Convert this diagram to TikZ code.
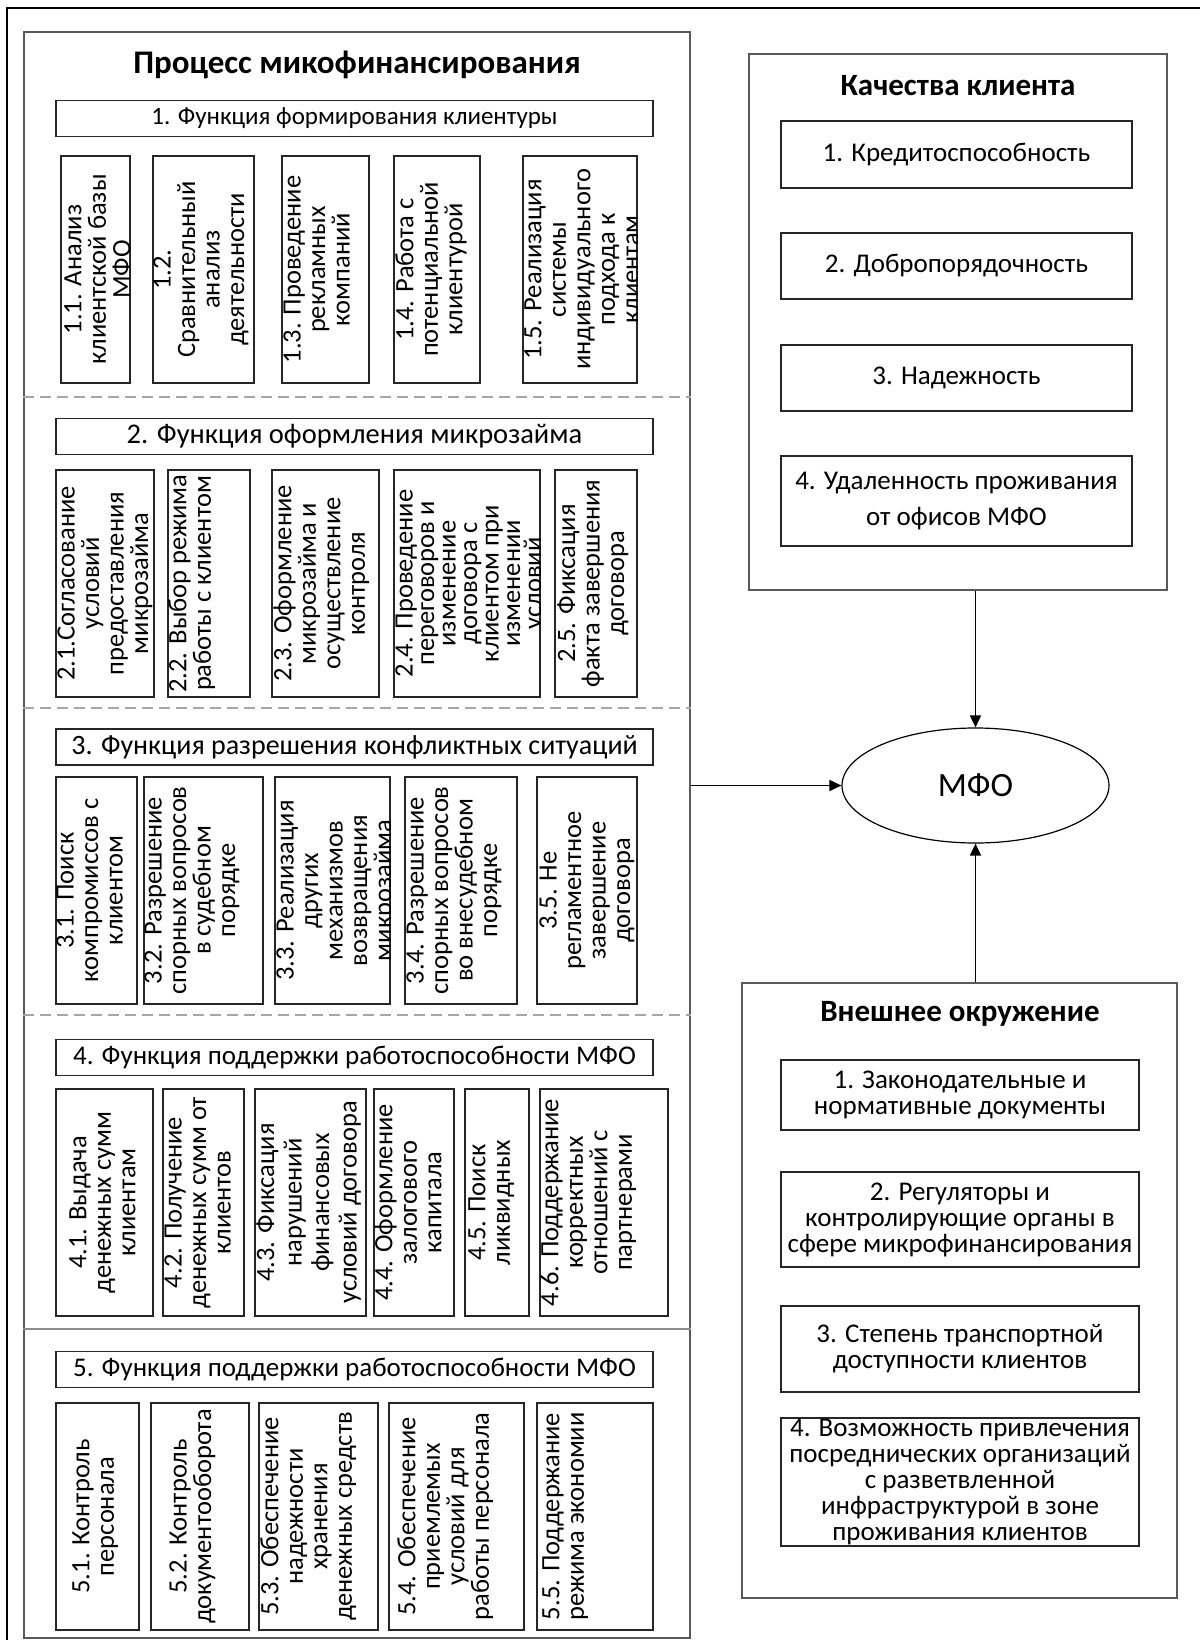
\documentclass[tikz,border=0pt]{standalone}
\usepackage{fontspec}
\setmainfont{Carlito}
\usetikzlibrary{shapes.geometric,arrows.meta}

\newcommand{\subfont}{\fontsize{26.5}{24.5}\selectfont\lineskiplimit=-40pt\relax}
\newcommand{\envfont}{\fontsize{27}{26}\selectfont\lineskiplimit=-40pt\relax}
% [text offset]{name}{x1}{y1}{x2}{y2}{text}
\newcommand{\subbox}[7][2]{%
  \pgfmathsetmacro{\sbw}{#5-#3}%
  \pgfmathsetmacro{\sbh}{#6-#4}%
  \node[subframe, minimum width=\sbw pt, minimum height=\sbh pt] (#2) at ({(#3+#5)/2},{(#4+#6)/2}) {};
  \begin{scope}
    \clip (#2.south west) rectangle (#2.north east);
    \node[subtext] (#2txt) at ([xshift=#1pt]#2.west) {#7};
  \end{scope}}

\begin{document}
\begin{tikzpicture}[x=1pt, y=-1pt]

\tikzset{bigframe/.style={draw=black!65, line width=2.4pt, inner sep=0pt},
subframe/.style={draw=black!85, line width=1.7pt, inner sep=0pt},
subtext/.style={rotate=90, anchor=north, align=center, inner sep=0pt, font=\subfont},
headbox/.style={draw=black!85, line width=1.7pt, inner sep=0pt, minimum width=597pt, minimum height=36pt},
kitem/.style={draw=black!85, line width=1.7pt, inner sep=0pt, minimum width=351pt, align=center, font=\fontsize{27}{36}\selectfont},
vitem/.style={draw=black!85, line width=1.7pt, inner sep=0pt, minimum width=358pt, align=center, font=\envfont},
boxtitle/.style={inner sep=0pt, font=\bfseries\fontsize{31}{36}\selectfont},
sepline/.style={draw=black!35, line width=2pt, dash pattern=on 11pt off 6pt},
flow/.style={line width=1.8pt, -{Triangle[length=12pt,width=11pt]}}}

\useasboundingbox (0,0) rectangle (1200,1640);

% Frame
\draw[line width=2pt] (7,1640) -- (7,8) -- (1200,8);

% Blocks
\node[bigframe, minimum width=666pt, minimum height=1606pt] (proc) at (357,835) {};
\node[bigframe, minimum width=418pt, minimum height=536pt] (kach) at (958,322) {};
\node[bigframe, minimum width=435pt, minimum height=615pt] (vnesh) at (959.5,1290.5) {};
\node[draw, line width=1.2pt, ellipse, minimum width=267pt, minimum height=115pt, font=\fontsize{34}{40}\selectfont] (mfo) at (975.5,785.5) {МФО};

\node[inner sep=0pt, font=\bfseries\fontsize{33}{40}\selectfont] (proctitle) at (357,65) {Процесс микофинансирования};
\node[boxtitle] (kachtitle) at (958,86) {Качества клиента};
\node[boxtitle] (vneshtitle) at (960,1014) {Внешнее окружение};

% Separators
\foreach \y in {397,708,1015} \draw[sepline] (proc.west |- 0,\y) -- (proc.east |- 0,\y);
\draw[draw=black!45, line width=1.6pt] (proc.west |- 0,1329) -- (proc.east |- 0,1329);

% Functions
\foreach \n/\y/\s/\t in {1/118.5/25/{1. Функция формирования клиентуры},
  2/436.5/28.5/{2. Функция оформления микрозайма},
  3/747/28/{3. Функция разрешения конфликтных ситуаций},
  4/1057.5/27/{4. Функция поддержки работоспособности МФО},
  5/1369.5/27/{5. Функция поддержки работоспособности МФО}}
  \node[headbox, font=\fontsize{\s}{30}\selectfont] (fun\n) at (354.5,\y) {\t};

% Function 1
\subbox[4]{f11}{61}{156}{130}{383}{1.1. Анализ\\клиентской базы\\МФО}
\subbox[1]{f12}{153}{156}{254}{383}{1.2.\\Сравнительный\\анализ\\деятельности}
\subbox[2]{f13}{282}{156}{369}{383}{1.3. Проведение\\рекламных\\компаний}
\subbox[2]{f14}{394}{156}{480}{383}{1.4. Работа с\\потенциальной\\клиентурой}
\subbox[2]{f15}{523}{156}{637}{383}{1.5. Реализация\\системы\\индивидуального\\подхода к\\клиентам}

% Function 2
\subbox[2]{f21}{56}{470}{154}{697}{2.1.Согласование\\условий\\предоставления\\микрозайма}
\subbox[1]{f22}{168}{470}{250}{697}{2.2. Выбор режима\\работы с клиентом}
\subbox[2]{f23}{272}{470}{379}{697}{2.3. Оформление\\микрозайма и\\осуществление\\контроля}
\subbox[2]{f24}{394}{470}{540}{697}{2.4. Проведение\\[-3pt]переговоров и\\[-3pt]изменение\\[-3pt]договора с\\[-3pt]клиентом при\\[-3pt]изменении\\[-3pt]условий}
\subbox[3]{f25}{555}{470}{637}{697}{2.5. Фиксация\\факта завершения\\договора}

% Function 3
\subbox[1]{f31}{56}{777}{137}{1004}{3.1. Поиск\\компромиссов с\\клиентом}
\subbox[1]{f32}{144}{777}{263}{1004}{3.2. Разрешение\\спорных вопросов\\в судебном\\порядке}
\subbox[2]{f33}{275}{777}{390}{1004}{3.3. Реализация\\других\\механизмов\\возвращения\\микрозайма}
\subbox[2]{f34}{405}{777}{517}{1004}{3.4. Разрешение\\спорных вопросов\\во внесудебном\\порядке}
\subbox[3]{f35}{537}{777}{637}{1004}{3.5. Не\\регламентное\\завершение\\договора}

% Function 4
\subbox[14]{f41}{56}{1089}{153}{1316}{4.1. Выдача\\денежных сумм\\клиентам}
\subbox[2]{f42}{163}{1089}{244}{1316}{4.2. Получение\\денежных сумм от\\клиентов}
\subbox[2]{f43}{255}{1089}{366}{1316}{4.3. Фиксация\\[3pt]нарушений\\[3pt]финансовых\\[3pt]условий договора}
\subbox[1]{f44}{374}{1089}{454}{1316}{4.4. Оформление\\залогового\\капитала}
\subbox[4]{f45}{465}{1089}{529}{1316}{4.5. Поиск\\ликвидных}
\subbox[1]{f46}{540}{1089}{668}{1316}{4.6. Поддержание\\корректных\\отношений с\\партнерами}

% Function 5
\subbox[17]{f51}{56}{1403}{139}{1630}{5.1. Контроль\\персонала}
\subbox[19]{f52}{151}{1403}{249}{1630}{5.2. Контроль\\документооборота}
\subbox[2]{f53}{259}{1403}{378}{1630}{5.3. Обеспечение\\надежности\\хранения\\денежных средств}
\subbox[9]{f54}{389}{1403}{524}{1630}{5.4. Обеспечение\\приемлемых\\условий для\\работы персонала}
\subbox[6]{f55}{537}{1403}{653}{1630}{5.5. Поддержание\\режима экономии}

% Client qualities
\node[kitem, minimum height=67pt] (k1) at (956.5,154.5) {1. Кредитоспособность};
\node[kitem, minimum height=66pt] (k2) at (956.5,266) {2. Добропорядочность};
\node[kitem, minimum height=66pt] (k3) at (956.5,378) {3. Надежность};
\node[kitem, minimum height=90pt] (k4) at (956.5,501) {4. Удаленность проживания\\от офисов МФО};

% Environment
\node[vitem, minimum height=70pt] (v1) at (960,1095) {1. Законодательные и\\нормативные документы};
\node[vitem, minimum height=95pt] (v2) at (960,1219.5) {2. Регуляторы и\\контролирующие органы в\\сфере микрофинансирования};
\node[vitem, minimum height=86pt] (v3) at (960,1349) {3. Степень транспортной\\доступности клиентов};
\node[vitem, minimum height=128pt] (v4) at (960,1482) {4. Возможность привлечения\\посреднических организаций\\с разветвленной\\инфраструктурой в зоне\\проживания клиентов};

% Arrows
\draw[flow] (mfo.west -| proc.east) -- (mfo.west);
\draw[flow] (kach.south -| mfo.north) -- (mfo.north);
\draw[flow] (vnesh.north -| mfo.south) -- (mfo.south);

\end{tikzpicture}
\end{document}
